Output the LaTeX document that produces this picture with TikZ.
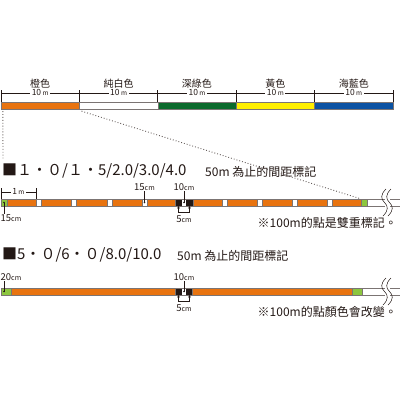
\documentclass[tikz,border=0pt]{standalone}
\usepackage{fontspec}
\setmainfont{Noto Sans CJK TC}
\usepackage{tikz}
\usepackage{xcolor}
\usetikzlibrary{arrows.meta,positioning,calc}
\definecolor{ink}{HTML}{231815}
\definecolor{tapeorange}{HTML}{E8730F}
\definecolor{tapewhite}{HTML}{FFFFFF}
\definecolor{tapegreen}{HTML}{0B6A2C}
\definecolor{tapeyellow}{HTML}{FFEF00}
\definecolor{tapeblue}{HTML}{0B52A3}
\definecolor{tapelime}{HTML}{8CC63E}
\newcommand{\cmsmall}{{\fontsize{7}{7}\selectfont cm}}
\newcommand{\msmall}{{\fontsize{6.5}{6.5}\selectfont m}}
\tikzset{
  colorseg/.style={
    draw=ink!60, line width=0.3pt, inner sep=0pt,
    minimum width=78.4pt, minimum height=7pt
  },
  tapepiece/.style={
    draw=ink!60, line width=0.3pt, inner sep=0pt, minimum height=7pt
  },
  tapeedge/.style={draw=ink!60, line width=0.3pt},
  collabel/.style={font=\fontsize{10}{10}\selectfont, text=ink, inner sep=1pt},
  dimlabel/.style={font=\fontsize{8.5}{8.5}\selectfont, text=ink, fill=white, inner sep=1.5pt},
  dimline/.style={draw=ink, line width=0.5pt},
  cmlabel/.style={font=\fontsize{9.5}{9.5}\selectfont, text=ink, inner sep=0.5pt},
  leader/.style={draw=ink, line width=0.5pt},
  heading/.style={font=\fontsize{15}{15}\selectfont, text=ink, anchor=west, inner sep=0pt},
  notetext/.style={font=\fontsize{12}{12}\selectfont, text=ink, inner sep=0pt},
  zoomline/.style={draw=ink!70, dotted, line width=0.9pt},
  halfbracket/.style={draw=ink, line width=0.5pt, {Stealth[length=2.5pt,width=2.5pt]}-{Stealth[length=2.5pt,width=2.5pt]}}
}

\begin{document}
\begin{tikzpicture}[x=1pt,y=-1pt]
\useasboundingbox (0,0) rectangle (400,400);

% colour sequence, 10m each
\foreach \col/\name [count=\i from 0] in {tapeorange/橙色,tapewhite/純白色,tapegreen/深綠色,tapeyellow/黃色,tapeblue/海藍色}{
  \node[colorseg, fill=\col] (seg\i) at (40.2+78.4*\i,105.5) {};
  \node[collabel] (name\i) at (40.2+78.4*\i,84) {\name};
  \draw[dimline] (seg\i.north west) -- ++(0,-12);
  \draw[dimline] ($(seg\i.north west)+(0,-9)$) -- ($(seg\i.north east)+(0,-9)$);
  \node[dimlabel] (len\i) at ($(seg\i.north)+(0,-9)$) {10\,\msmall};
}
\draw[dimline] (seg4.north east) -- ++(0,-12);

% row 1
\node[heading] (head1) at (2,171) {■１・０/１・5/2.0/3.0/4.0};
\node[notetext, anchor=west] (span1) at (205,172) {50m 為止的間距標記};
\draw[tapeedge] (1,199) -- (400,199) (1,206) -- (400,206);
\node[tapepiece, fill=tapeorange, minimum width=354pt] (or1) at (184,202.5) {};
\node[tapepiece, fill=tapelime, minimum width=6pt] (g1a) at (4,202.5) {};
\node[tapepiece, fill=tapelime, minimum width=6pt] (g1b) at (364,202.5) {};
\foreach \x [count=\k] in {36,71,107,142,222,257,292,327}
  \node[tapepiece, fill=white, minimum width=5pt] (w\k) at (\x+2.5,202.5) {};
\node[tapepiece, fill=ink, minimum width=18pt] (blk1) at (184,202.5) {};
\node[tapepiece, draw=none, fill=white, minimum width=4.5pt, minimum height=6pt] (ctr1) at (184,202.5) {};
\fill[ink] (ctr1.center) circle (0.9pt) (w4.center) circle (0.9pt) (g1a.center) circle (0.9pt);

\draw[dimline] (g1a.north west) -- ++(0,-11);
\draw[dimline] (w1.north west) -- ++(0,-11);
\draw[dimline] ($(g1a.north west)+(0,-7)$) -- ($(w1.north west)+(0,-7)$);
\node[dimlabel] (onem) at ($(g1a.north west)!.5!(w1.north west)+(0,-7)$) {1\,\msmall};

\node[cmlabel] (l15a) at (144.5,187) {15\cmsmall};
\draw[leader] (l15a.south) -- (w4.center);
\node[cmlabel] (l10a) at (184,187) {10\cmsmall};
\draw[leader] (l10a.south) -- (ctr1.center);
\coordinate (b1l) at (178.5,206);
\coordinate (b1r) at (189.5,206);
\draw[halfbracket] (b1l) -- ++(0,6) -| (b1r);
\node[cmlabel] (l5a) at (184,219) {5\cmsmall};
\node[cmlabel, anchor=west] (l15b) at (0,218) {15\cmsmall};
\draw[leader] (g1a.center) -- (g1a.center |- l15b.north);

\node[notetext, anchor=east] (dbl) at (397,223) {※100m的點是雙重標記。};

% break of row 1
\fill[white] (385,190) rectangle (390,215);
\foreach \dx in {0,5}
  \draw[ink, line width=0.5pt] (386+\dx,189) .. controls (380+\dx,195) and (381+\dx,199) .. (384.5+\dx,202.5)
    .. controls (388+\dx,206) and (389+\dx,210) .. (383+\dx,216);

% zoom lines from the orange 10m
\coordinate (zl) at (3,160);
\draw[zoomline] ($(seg0.south west)+(2,2)$) -- (zl);
\draw[zoomline] ($(seg0.south east)+(2,2)$) -- (g1b.north west);

% row 2
\node[heading] (head2) at (2,255) {■5・０/6・０/8.0/10.0};
\node[notetext, anchor=west] (span2) at (177,256) {50m 為止的間距標記};
\draw[tapeedge] (1,288) -- (400,288) (1,295) -- (400,295);
\node[tapepiece, fill=tapeorange, minimum width=341pt] (or2) at (181.5,291.5) {};
\node[tapepiece, fill=tapelime, minimum width=10pt] (g2a) at (6,291.5) {};
\node[tapepiece, fill=tapelime, minimum width=10pt] (g2b) at (357,291.5) {};
\node[tapepiece, fill=ink, minimum width=17pt] (blk2) at (183.5,291.5) {};
\node[tapepiece, draw=none, fill=white, minimum width=4.5pt, minimum height=6pt] (ctr2) at (184,291.5) {};
\fill[ink] (ctr2.center) circle (0.9pt) (4,291.5) circle (0.9pt);

\node[cmlabel, anchor=west] (l20) at (0,277) {20\cmsmall};
\draw[leader] (4,291.5) -- (4,0 |- l20.south);
\node[cmlabel] (l10b) at (184,277) {10\cmsmall};
\draw[leader] (l10b.south) -- (ctr2.center);
\coordinate (b2l) at (178.5,295);
\coordinate (b2r) at (189.5,295);
\draw[halfbracket] (b2l) -- ++(0,6) -| (b2r);
\node[cmlabel] (l5b) at (184,308) {5\cmsmall};

\node[notetext, anchor=east] (chg) at (397,312) {※100m的點顏色會改變。};

% break of row 2
\fill[white] (385,279) rectangle (390,304);
\foreach \dx in {0,5}
  \draw[ink, line width=0.5pt] (386+\dx,278) .. controls (380+\dx,284) and (381+\dx,288) .. (384.5+\dx,291.5)
    .. controls (388+\dx,295) and (389+\dx,299) .. (383+\dx,305);
\end{tikzpicture}
\end{document}
